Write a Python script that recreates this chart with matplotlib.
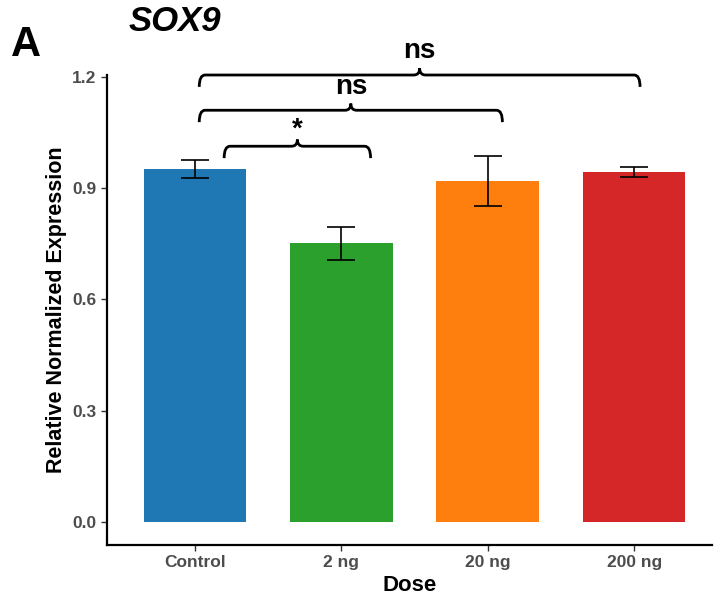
import matplotlib.pyplot as plt
from matplotlib.path import Path
from matplotlib.patches import PathPatch

plt.rcParams['font.family'] = ['Liberation Sans', 'DejaVu Sans']

# expression data
doses = ['Control', '2 ng', '20 ng', '200 ng']
means = [0.952, 0.751, 0.920, 0.944]
errors = [0.025, 0.044, 0.067, 0.013]
colors = ['#1F77B4', '#2CA02C', '#FF7F0E', '#D62728']

# significance brackets: (x start, x end, line height, label)
brackets = [
    (0.20, 1.20, 1.013, '*'),
    (0.03, 2.10, 1.110, 'ns'),
    (0.03, 3.04, 1.205, 'ns'),
]

fig = plt.figure(figsize=(7.19, 6.03), dpi=100)
ax = fig.add_axes([0.1488, 0.0962, 0.8412, 0.7794])

x = range(len(doses))
ax.bar(x, means, width=0.7, color=colors, zorder=2)
ax.errorbar(x, means, yerr=errors, fmt='none', ecolor='black',
            elinewidth=1.2, capsize=10, capthick=1.2, zorder=3)


def brace(x0, x1, y, label):
    # curly bracket: hooks down at the ends, small spike up at the middle
    dx, dy = 0.04, 0.032
    xm = (x0 + x1) / 2
    verts = [
        (x0, y - dy), (x0, y), (x0 + dx, y),
        (xm - dx, y), (xm, y), (xm, y + 0.018),
        (xm, y), (xm + dx, y),
        (x1 - dx, y), (x1, y), (x1, y - dy),
    ]
    codes = [Path.MOVETO, Path.CURVE3, Path.CURVE3,
             Path.LINETO, Path.CURVE3, Path.CURVE3,
             Path.CURVE3, Path.CURVE3,
             Path.LINETO, Path.CURVE3, Path.CURVE3]
    ax.add_patch(PathPatch(Path(verts, codes), fill=False, lw=2.0,
                           edgecolor='black', clip_on=False, zorder=4))
    off = 0.025 if label == '*' else 0.045
    ax.text(xm, y + off, label, ha='center', va='baseline',
            fontsize=20, fontweight='bold', clip_on=False)


for x0, x1, y, lab in brackets:
    brace(x0, x1, y, lab)

ax.set_xlim(-0.6, 3.53)
ax.set_ylim(-0.062, 1.205)
ax.set_xticks(list(x))
ax.set_xticklabels(doses)
ax.set_yticks([0.0, 0.3, 0.6, 0.9, 1.2])
ax.set_yticklabels(['0.0', '0.3', '0.6', '0.9', '1.2'])
ax.tick_params(axis='both', labelsize=12.5, labelcolor='#4D4D4D',
               length=4, width=1.0, color='#333333')
for lab in ax.get_xticklabels() + ax.get_yticklabels():
    lab.set_fontweight('bold')

for side in ['top', 'right']:
    ax.spines[side].set_visible(False)
for side in ['left', 'bottom']:
    ax.spines[side].set_linewidth(1.6)

ax.set_xlabel('Dose', fontsize=16, fontweight='bold', labelpad=3)
ax.set_ylabel('Relative Normalized Expression', fontsize=15.5,
              fontweight='bold', labelpad=4)

fig.text(0.243, 0.965, 'SOX9', fontsize=25, fontweight='bold',
         style='italic', ha='center', va='center')
fig.text(0.015, 0.925, 'A', fontsize=30, fontweight='bold',
         ha='left', va='center')

fig.savefig('out.png', dpi=100)
